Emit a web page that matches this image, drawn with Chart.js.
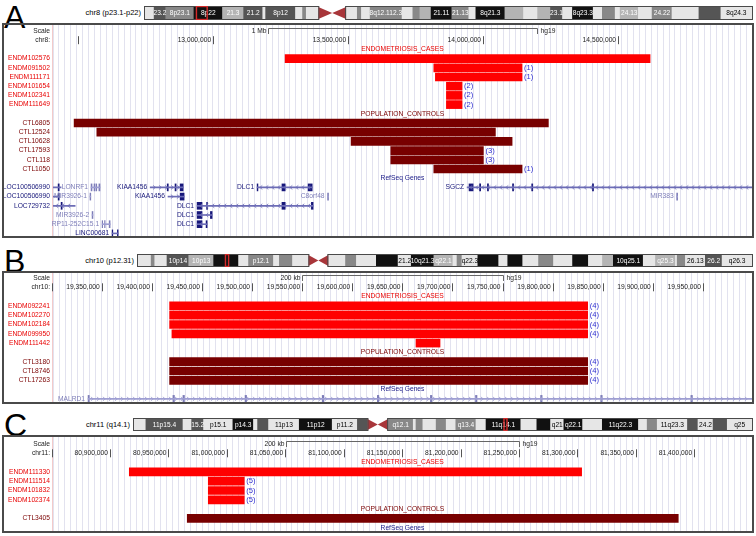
<!DOCTYPE html>
<html>
<head>
<meta charset="utf-8">
<script src="https://cdn.jsdelivr.net/npm/chart.js@4.4.1/dist/chart.umd.min.js"></script>
<style>
  body { margin: 0; background: #fff; }
  #page { position: relative; width: 756px; height: 536px; overflow: hidden;
          font-family: "Liberation Sans", Arial, sans-serif; }
  .letter { position: absolute; left: 4px; font-size: 32px; line-height: 32px; color: #000; }
  .chrlab { position: absolute; left: 0; font-size: 7.5px; text-align: right; color: #000; white-space: nowrap; }
  .ideo { position: absolute; display: block; }
  .box { position: absolute; left: 2px; width: 748px; border: 2px solid #4a4a4a; }
  .box canvas { display: block; }
</style>
</head>
<body>
<div id="page">
  <div class="letter" style="top:1px">A</div>
  <div class="chrlab" style="top:6px; width:141px; line-height:14px">chr8 (p23.1-p22)</div>
  <canvas id="ideoA" class="ideo" width="609" height="14" style="left:144px; top:6px"></canvas>
  <div class="box" style="top:23px; height:211px"><canvas id="panelA" width="748" height="211"></canvas></div>

  <div class="letter" style="top:245px">B</div>
  <div class="chrlab" style="top:254px; width:134px; line-height:13px">chr10 (p12.31)</div>
  <canvas id="ideoB" class="ideo" width="616" height="13" style="left:137px; top:254px"></canvas>
  <div class="box" style="top:271px; height:129px"><canvas id="panelB" width="748" height="129"></canvas></div>

  <div class="letter" style="top:409px">C</div>
  <div class="chrlab" style="top:418px; width:130px; line-height:13px">chr11 (q14.1)</div>
  <canvas id="ideoC" class="ideo" width="620" height="13" style="left:133px; top:418px"></canvas>
  <div class="box" style="top:435px; height:94px"><canvas id="panelC" width="748" height="94"></canvas></div>
</div>

<script>
// ─── Panel A : chr8 (hg19) ───────────────────────────────────────────
const A_VIEW = [12407000, 14996000];
const A_CASE_IDS = ["ENDM102576", "ENDM091502", "ENDM111171", "ENDM101654", "ENDM102341", "ENDM111649"];
const A_CASE_START = [13266700, 13817400, 13823300, 13864100, 13864100, 13864100];
const A_CASE_END = [14618500, 14144400, 14144400, 13922200, 13922200, 13922200];
const A_CASE_COUNT = [null, 1, 1, 2, 2, 2];
const A_CTL_IDS = ["CTL6805", "CTL12524", "CTL10628", "CTL17593", "CTL118", "CTL1050"];
const A_CTL_START = [12485200, 12569300, 13511100, 13658100, 13658100, 13817400];
const A_CTL_END = [14241800, 14045600, 14107400, 14001100, 14001100, 14144400];
const A_CTL_COUNT = [null, null, null, 3, 3, 1];

const A_GENE_NAME = ["LOC100506990", "LONRF1", "KIAA1456", "DLC1", "SGCZ",
                     "LOC100506990", "MIR3926-1", "KIAA1456", "C8orf48", "MIR383",
                     "LOC729732", "DLC1", "MIR3926-2", "DLC1", "RP11-252C15.1", "DLC1", "LINC00681"];
const A_GENE_ROW = [0, 0, 0, 0, 0, 1, 1, 1, 1, 1, 2, 2, 3, 3, 4, 4, 5];
const A_GENE_START = [12300000, 12548000, 12767000, 13163000, 13940800,
                      12300000, 12544000, 12833000, 13424000, 14717000,
                      12300000, 12940700, 12551800, 12940700, 12588900, 12940700, 12625900];
const A_GENE_END = [12437000, 12581000, 12889000, 13367000, 15100000,
                    12430000, 12547000, 12892600, 13427500, 14720500,
                    12489000, 13370400, 12555000, 12996300, 12618500, 12977800, 12648100];
const A_GENE_SHADE = ["dark", "light", "dark", "dark", "dark",
                      "dark", "light", "dark", "light", "light",
                      "dark", "dark", "light", "dark", "light", "dark", "dark"];
const A_GENE_STRAND = ["-", "-", "+", "-", "-", "-", "+", "+", "+", "-", "-", "-", "+", "-", "-", "-", "+"];
const A_GENE_EXONS = [
  [[12426000, 12430000]],
  [[12548000, 12551500], [12559000, 12562000], [12566000, 12569000], [12577000, 12581000]],
  [[12830000, 12834000], [12859000, 12863000], [12878000, 12889000]],
  [[13163000, 13166000], [13255000, 13267000], [13352000, 13367000]],
  [[13948000, 13963000], [13987000, 13991000], [14016000, 14020000], [14109000, 14113000], [14180000, 14184000], [14405000, 14409000]],
  [[12426000, 12430000]],
  [[12544000, 12547000]],
  [[12878000, 12892600]],
  [[13424000, 13427500]],
  [[14717000, 14720500]],
  [[12437000, 12441000]],
  [[12940700, 12959000], [12976000, 12979000], [13255000, 13267000], [13364000, 13370400]],
  [[12551800, 12555000]],
  [[12940700, 12959000], [12990000, 12996300]],
  [[12588900, 12591000], [12598000, 12600000], [12615000, 12618500]],
  [[12940700, 12959000], [12974000, 12977800]],
  [[12625900, 12628500], [12645500, 12648100]]
];

// chr8 cytobands (Mb)
const A_BAND_END = [2.2, 5.0, 11.8, 18.7, 23.8, 28.4, 29.1, 36.3, 38.0, 38.9, 41.8, 48.5, 51.2, 52.2, 54.3,
                    58.9, 62.0, 64.6, 66.3, 69.0, 74.0, 78.1, 79.8, 86.8, 91.3, 94.7, 97.8, 100.7, 103.1,
                    108.1, 110.3, 113.4, 114.6, 119.0, 122.3, 127.1, 133.6, 138.9, 146.4];
const A_BAND_STAIN = ["gneg", "gpos75", "gpos50", "gpos100", "gpos25", "gpos75", "gneg", "gpos75", "gneg", "gpos50",
                      "gneg", "acen", "gneg", "gpos50", "gneg", "gpos50", "gpos50", "gneg", "gpos50", "gpos25",
                      "gpos100", "gpos50", "gneg", "gpos100", "gpos25", "gneg", "gpos25", "gpos75", "gneg",
                      "gpos100", "gneg", "gpos50", "gneg", "gpos25", "gneg", "gpos50", "gneg", "gpos75", "gneg"];
const A_BAND_NAME = ["", "23.2", "8p23.1", "8p22", "21.3", "21.2", "", "8p12", "", "", "", "", "", "", "",
                     "8q12.1", "12.3", "", "", "13.3", "21.11", "21.13", "", "8q21.3", "8q22.1", "", "q22.3", "23.1", "",
                     "8q23.3", "", "", "", "24.13", "", "24.22", "", "", "8q24.3"];

// ─── Panel B : chr10 ─────────────────────────────────────────────────
const B_VIEW = [19301300, 19999000];
const B_CASE_IDS = ["ENDM092241", "ENDM102270", "ENDM102184", "ENDM099950", "ENDM111442"];
const B_CASE_START = [19417700, 19417700, 19417700, 19420000, 19663600];
const B_CASE_END = [19835000, 19835000, 19835000, 19835000, 19687600];
const B_CASE_COUNT = [4, 4, 4, 4, null];
const B_CTL_IDS = ["CTL3180", "CTL8746", "CTL17263"];
const B_CTL_START = [19417700, 19417700, 19417700];
const B_CTL_END = [19835000, 19835000, 19835000];
const B_CTL_COUNT = [4, 4, 4];

const B_GENE_NAME = ["MALRD1"];
const B_GENE_ROW = [0];
const B_GENE_START = [19336300];
const B_GENE_END = [20100000];
const B_GENE_SHADE = ["light"];
const B_GENE_STRAND = ["+"];
const B_GENE_EXONS = [[[19336300, 19337500], [19421000, 19422500], [19431000, 19432500], [19493000, 19494500],
                       [19570000, 19571500], [19625000, 19626500], [19678000, 19679500], [19723000, 19724500],
                       [19788000, 19789500], [19848000, 19849500], [19938000, 19939500]]];

const B_BAND_END = [2.9, 3.7, 6.4, 11.2, 16.7, 22.2, 24.4, 29.9, 31.2, 34.1, 37.6, 42.0, 45.8, 48.2, 52.6,
                    57.4, 60.3, 65.3, 69.5, 70.4, 71.5, 75.0, 79.6, 81.6, 84.9, 88.4, 91.7, 95.9, 99.4,
                    102.5, 104.9, 111.5, 114.2, 118.6, 119.0, 120.8, 125.2, 128.9, 135.5];
const B_BAND_STAIN = ["gneg", "gpos50", "gneg", "gpos75", "gpos25", "gpos100", "gneg", "gpos50", "gneg", "gpos50",
                      "gneg", "acen", "gneg", "gpos50", "gneg", "gpos100", "gneg", "gpos100", "gpos25", "gneg",
                      "gpos50", "gneg", "gpos100", "gneg", "gpos100", "gneg", "gpos50", "gneg", "gpos100",
                      "gneg", "gpos25", "gpos100", "gneg", "gpos25", "gneg", "gpos50", "gneg", "gpos75", "gneg"];
const B_BAND_NAME = ["", "", "", "10p14", "10p13", "", "", "p12.1", "", "", "", "", "", "", "",
                     "10q21.1", "21.2", "10q21.3", "q22.1", "", "", "q22.3", "10q23.1", "", "", "", "", "", "",
                     "", "", "10q25.1", "", "q25.3", "", "", "26.13", "26.2", "q26.3"];

// ─── Panel C : chr11 ─────────────────────────────────────────────────
const C_VIEW = [80851200, 81449400];
const C_CASE_IDS = ["ENDM111330", "ENDM111514", "ENDM101832", "ENDM102374"];
const C_CASE_START = [80916500, 80984100, 80984100, 80984100];
const C_CASE_END = [81303600, 81014900, 81014900, 81014900];
const C_CASE_COUNT = [null, 5, 5, 5];
const C_CTL_IDS = ["CTL3405"];
const C_CTL_START = [80966100];
const C_CTL_END = [81386300];
const C_CTL_COUNT = [null];

const C_BAND_END = [2.6, 10.7, 12.6, 15.2, 21.6, 26.1, 27.0, 29.4, 36.1, 43.3, 48.8, 51.0, 55.5, 61.0, 61.6,
                    63.1, 66.0, 68.2, 70.3, 74.7, 76.9, 84.5, 88.0, 91.0, 93.9, 98.0, 102.3, 110.2, 112.1,
                    114.3, 120.9, 123.2, 126.5, 129.6, 135.0];
const C_BAND_STAIN = ["gneg", "gpos75", "gneg", "gpos75", "gneg", "gpos100", "gneg", "gpos75", "gneg", "gpos100",
                      "gneg", "gpos75", "acen", "gpos50", "gneg", "gpos50", "gneg", "gpos50", "gneg", "gpos50",
                      "gneg", "gpos100", "gneg", "gpos100", "gneg", "gpos100", "gneg", "gpos100", "gneg",
                      "gpos50", "gneg", "gpos75", "gneg", "gpos75", "gneg"];
const C_BAND_NAME = ["", "11p15.4", "", "15.2", "p15.1", "p14.3", "", "14.1", "11p13", "11p12", "p11.2", "", "",
                     "q12.1", "", "", "", "", "", "q13.4", "", "11q14.1", "", "q14.3", "q21", "q22.1", "",
                     "11q22.3", "", "", "11q23.3", "", "24.2", "", "q25"];

// ─── Styling ─────────────────────────────────────────────────────────
const SMALL = '6.7px "Liberation Sans", Arial, sans-serif';
const COUNT_FONT = '7.6px "Liberation Sans", Arial, sans-serif';
const BAND_FONT = '6.6px "Liberation Sans", Arial, sans-serif';
const LABEL_RIGHT = 46;   // right edge of the track-name column (canvas px)
const DATA_LEFT = 49;     // left edge of the data area (canvas px)
const STAIN_COLOR = { gneg: "#e6e6e6", gpos25: "#b4b4b4", gpos50: "#888888", gpos75: "#555555", gpos100: "#111111", acen: "rgba(0,0,0,0)" };
const SHADE = { dark: "#17177a", light: "#7d7db8" };        // exons and names
const INTRON = { dark: "#6c6cb6", light: "#9e9ed2" };       // intron lines and chevrons
const CASE_RED = "#ff0000";
const CTL_RED = "#780000";

function textAt(ctx, s, x, y, color, align, font) {
  ctx.font = font || SMALL;
  ctx.fillStyle = color;
  ctx.textAlign = align;
  ctx.textBaseline = "middle";
  ctx.fillText(s, x, y);
}

function vline(ctx, x, y0, y1, color) {
  const xs = Math.round(x) + 0.5;
  ctx.strokeStyle = color;
  ctx.lineWidth = 1;
  ctx.beginPath();
  ctx.moveTo(xs, y0);
  ctx.lineTo(xs, y1);
  ctx.stroke();
}

// ─── Ideogram ────────────────────────────────────────────────────────
function buildIdeogram(canvasId, bandEnd, bandStain, bandName, viewBp) {
  const canvas = document.getElementById(canvasId);
  const starts = [0].concat(bandEnd.slice(0, -1));
  const acen = bandStain.indexOf("acen");

  const ideoPlugin = {
    id: "ideoOverlay",
    afterDatasetsDraw(chart) {
      const { ctx, chartArea: ca, scales: { x } } = chart;
      ctx.save();
      // band names, only where they fit
      bandName.forEach((n, i) => {
        if (!n) return;
        const x0 = x.getPixelForValue(starts[i]);
        const x1 = x.getPixelForValue(bandEnd[i]);
        ctx.font = BAND_FONT;
        if (ctx.measureText(n).width > x1 - x0 + 1.5) return;
        const col = bandStain[i] === "gneg" ? "#000" : "#fff";
        textAt(ctx, n, (x0 + x1) / 2, (ca.top + ca.bottom) / 2 + 0.5, col, "center", BAND_FONT);
      });
      // centromere bow-tie
      const c0 = x.getPixelForValue(starts[acen]);
      const c1 = x.getPixelForValue(bandEnd[acen]);
      const cm = (c0 + c1) / 2, ym = (ca.top + ca.bottom) / 2;
      ctx.fillStyle = "#a8363a";
      ctx.beginPath();
      ctx.moveTo(c0, ca.top); ctx.lineTo(cm, ym); ctx.lineTo(c0, ca.bottom); ctx.closePath();
      ctx.moveTo(c1, ca.top); ctx.lineTo(cm, ym); ctx.lineTo(c1, ca.bottom); ctx.closePath();
      ctx.fill();
      // arm outlines
      ctx.strokeStyle = "#4a4a4a";
      ctx.lineWidth = 1;
      ctx.strokeRect(ca.left - 0.5, ca.top - 0.5, c0 - ca.left + 1, ca.bottom - ca.top + 1);
      ctx.strokeRect(c1 - 0.5, ca.top - 0.5, ca.right - c1 + 1, ca.bottom - ca.top + 1);
      // current view marker
      let m0 = x.getPixelForValue(viewBp[0] / 1e6);
      let m1 = x.getPixelForValue(viewBp[1] / 1e6);
      if (m1 - m0 < 3) { const mm = (m0 + m1) / 2; m0 = mm - 1.5; m1 = mm + 1.5; }
      ctx.strokeStyle = "#d42a2a";
      ctx.lineWidth = 1.4;
      ctx.strokeRect(m0, ca.top - 0.5, m1 - m0, ca.bottom - ca.top + 1);
      ctx.restore();
    }
  };

  return new Chart(canvas, {
    type: "bar",
    data: {
      datasets: [{
        data: bandEnd.map((e, i) => ({ x: [starts[i], e], y: 0 })),
        backgroundColor: bandStain.map((s) => STAIN_COLOR[s]),
        barThickness: canvas.height - 2,
        borderWidth: 0,
        clip: 0
      }]
    },
    options: {
      indexAxis: "y",
      responsive: false,
      animation: false,
      events: [],
      layout: { padding: 1 },
      scales: {
        x: { type: "linear", display: false, min: 0, max: bandEnd[bandEnd.length - 1] },
        y: { type: "linear", display: false, offset: false, min: -0.5, max: 0.5 }
      },
      plugins: { legend: { display: false }, tooltip: { enabled: false } }
    },
    plugins: [ideoPlugin]
  });
}

// ─── Track panel ─────────────────────────────────────────────────────
function buildPanel(canvasId, p) {
  const canvas = document.getElementById(canvasId);
  const rows = { scale: 0, coord: 1, caseHead: 2, case0: 3 };
  rows.ctlHead = rows.case0 + p.caseIds.length;
  rows.ctl0 = rows.ctlHead + 1;
  rows.geneHead = rows.ctl0 + p.ctlIds.length;
  rows.gene0 = rows.geneHead + 1;

  const g = p.genes || { name: [], row: [], start: [], end: [], shade: [], strand: [], exons: [] };
  const geneLines = g.name.map((n, i) => ({ x: [g.start[i], g.end[i]], y: rows.gene0 + g.row[i], shade: g.shade[i] }));
  const geneExons = [];
  g.exons.forEach((list, i) => list.forEach((e) => geneExons.push({ x: e, y: rows.gene0 + g.row[i], shade: g.shade[i] })));

  const overlay = {
    id: "panelOverlay",
    afterDatasetsDraw(chart) {
      const { ctx, chartArea: ca, scales: { x, y } } = chart;
      const mid = (ca.left + ca.right) / 2;
      ctx.save();
      vline(ctx, ca.left - 1, ca.top, ca.bottom, "#f3caca");

      // scale bar
      const yS = y.getPixelForValue(rows.scale);
      textAt(ctx, "Scale", LABEL_RIGHT, yS, "#222", "right");
      const c = (p.view[0] + p.view[1]) / 2;
      const b0 = Math.round(x.getPixelForValue(c - p.barBp / 2)) + 0.5;
      const b1 = Math.round(x.getPixelForValue(c + p.barBp / 2)) + 0.5;
      const yl = Math.round(yS - 3) + 0.5;
      ctx.strokeStyle = "#666"; ctx.lineWidth = 1;
      ctx.beginPath();
      ctx.moveTo(b0, yS + 3); ctx.lineTo(b0, yl); ctx.lineTo(b1, yl); ctx.lineTo(b1, yS + 3);
      ctx.stroke();
      textAt(ctx, p.barLabel, b0 - 2, yS, "#222", "right");
      textAt(ctx, "hg19", b1 + 3, yS, "#222", "left");

      // coordinate ruler
      const yC = y.getPixelForValue(rows.coord);
      textAt(ctx, p.chrom + ":", LABEL_RIGHT, yC, "#222", "right");
      for (let v = Math.floor(p.view[0] / p.tickStep) * p.tickStep; v <= p.view[1]; v += p.tickStep) {
        const px = x.getPixelForValue(v);
        if (px < ca.left - 3) continue;
        vline(ctx, px, yC - 4, yC + 4, "#555");
        const lab = v.toLocaleString("en-US");
        ctx.font = SMALL;
        if (px - 2 - ctx.measureText(lab).width >= ca.left) textAt(ctx, lab, px - 2, yC, "#222", "right");
      }

      // track headers
      textAt(ctx, "ENDOMETRIOSIS_CASES", mid, y.getPixelForValue(rows.caseHead), "#e80000", "center");
      textAt(ctx, "POPULATION_CONTROLS", mid, y.getPixelForValue(rows.ctlHead), "#7a0000", "center");
      textAt(ctx, "RefSeq Genes", mid, y.getPixelForValue(rows.geneHead), "#20208a", "center");

      // sample names and overlap counts
      p.caseIds.forEach((id, i) => {
        const yr = y.getPixelForValue(rows.case0 + i);
        textAt(ctx, id, LABEL_RIGHT, yr, "#e80000", "right");
        if (p.caseCount[i] != null) textAt(ctx, "(" + p.caseCount[i] + ")", x.getPixelForValue(p.caseEnd[i]) + 2, yr, "#2f2fd0", "left", COUNT_FONT);
      });
      p.ctlIds.forEach((id, i) => {
        const yr = y.getPixelForValue(rows.ctl0 + i);
        textAt(ctx, id, LABEL_RIGHT, yr, "#7a0000", "right");
        if (p.ctlCount[i] != null) textAt(ctx, "(" + p.ctlCount[i] + ")", x.getPixelForValue(p.ctlEnd[i]) + 2, yr, "#2f2fd0", "left", COUNT_FONT);
      });

      // gene names and strand chevrons
      g.name.forEach((n, i) => {
        const yr = y.getPixelForValue(rows.gene0 + g.row[i]);
        const xs = x.getPixelForValue(g.start[i]);
        textAt(ctx, n, xs < ca.left ? LABEL_RIGHT : xs - 3, yr, SHADE[g.shade[i]], "right");
        const a = Math.max(xs, ca.left), b = Math.min(x.getPixelForValue(g.end[i]), ca.right);
        if (b - a < 9) return;
        const dir = g.strand[i] === "+" ? 1 : -1;
        ctx.strokeStyle = INTRON[g.shade[i]]; ctx.lineWidth = 0.8;
        for (let cx = a + 4; cx < b - 3; cx += 6) {
          ctx.beginPath();
          ctx.moveTo(cx - dir * 1.2, yr - 2);
          ctx.lineTo(cx + dir * 1.2, yr);
          ctx.lineTo(cx - dir * 1.2, yr + 2);
          ctx.stroke();
        }
      });
      ctx.restore();
    }
  };

  const barTh = Math.floor(p.rowH) - 1;
  return new Chart(canvas, {
    type: "bar",
    data: {
      datasets: [
        { data: p.caseIds.map((id, i) => ({ x: [p.caseStart[i], p.caseEnd[i]], y: rows.case0 + i })),
          backgroundColor: CASE_RED, barThickness: barTh, grouped: false, clip: 0 },
        { data: p.ctlIds.map((id, i) => ({ x: [p.ctlStart[i], p.ctlEnd[i]], y: rows.ctl0 + i })),
          backgroundColor: CTL_RED, barThickness: barTh, grouped: false, clip: 0 },
        { data: geneLines, backgroundColor: (c) => (c.raw ? INTRON[c.raw.shade] : INTRON.dark),
          barThickness: 1, grouped: false, clip: 0 },
        { data: geneExons, backgroundColor: (c) => (c.raw ? SHADE[c.raw.shade] : SHADE.dark),
          barThickness: 7, grouped: false, clip: 0 }
      ]
    },
    options: {
      indexAxis: "y",
      responsive: false,
      animation: false,
      events: [],
      layout: { padding: { left: DATA_LEFT, right: 0, top: 0, bottom: 0 } },
      scales: {
        x: {
          type: "linear", min: p.view[0], max: p.view[1], offset: false,
          ticks: { display: false, stepSize: p.guideStep },
          grid: { color: "#e2e2ef", lineWidth: 1, drawTicks: false, offset: false },
          border: { display: false }
        },
        y: {
          type: "linear", display: false, reverse: true, offset: false, grace: 0,
          min: -p.scaleOffset / p.rowH, max: (canvas.height - p.scaleOffset) / p.rowH
        }
      },
      plugins: { legend: { display: false }, tooltip: { enabled: false } }
    },
    plugins: [overlay]
  });
}

buildIdeogram("ideoA", A_BAND_END, A_BAND_STAIN, A_BAND_NAME, A_VIEW);
buildIdeogram("ideoB", B_BAND_END, B_BAND_STAIN, B_BAND_NAME, B_VIEW);
buildIdeogram("ideoC", C_BAND_END, C_BAND_STAIN, C_BAND_NAME, C_VIEW);

buildPanel("panelA", {
  chrom: "chr8", view: A_VIEW, tickStep: 500000, barBp: 1000000, barLabel: "1 Mb", guideStep: 22000,
  scaleOffset: 6, rowH: 9.2,
  caseIds: A_CASE_IDS, caseStart: A_CASE_START, caseEnd: A_CASE_END, caseCount: A_CASE_COUNT,
  ctlIds: A_CTL_IDS, ctlStart: A_CTL_START, ctlEnd: A_CTL_END, ctlCount: A_CTL_COUNT,
  genes: { name: A_GENE_NAME, row: A_GENE_ROW, start: A_GENE_START, end: A_GENE_END,
           shade: A_GENE_SHADE, strand: A_GENE_STRAND, exons: A_GENE_EXONS }
});
buildPanel("panelB", {
  chrom: "chr10", view: B_VIEW, tickStep: 50000, barBp: 200000, barLabel: "200 kb", guideStep: 6000,
  scaleOffset: 5, rowH: 9.3,
  caseIds: B_CASE_IDS, caseStart: B_CASE_START, caseEnd: B_CASE_END, caseCount: B_CASE_COUNT,
  ctlIds: B_CTL_IDS, ctlStart: B_CTL_START, ctlEnd: B_CTL_END, ctlCount: B_CTL_COUNT,
  genes: { name: B_GENE_NAME, row: B_GENE_ROW, start: B_GENE_START, end: B_GENE_END,
           shade: B_GENE_SHADE, strand: B_GENE_STRAND, exons: B_GENE_EXONS }
});
buildPanel("panelC", {
  chrom: "chr11", view: C_VIEW, tickStep: 50000, barBp: 200000, barLabel: "200 kb", guideStep: 5100,
  scaleOffset: 7, rowH: 9.3,
  caseIds: C_CASE_IDS, caseStart: C_CASE_START, caseEnd: C_CASE_END, caseCount: C_CASE_COUNT,
  ctlIds: C_CTL_IDS, ctlStart: C_CTL_START, ctlEnd: C_CTL_END, ctlCount: C_CTL_COUNT
});
</script>
</body>
</html>
